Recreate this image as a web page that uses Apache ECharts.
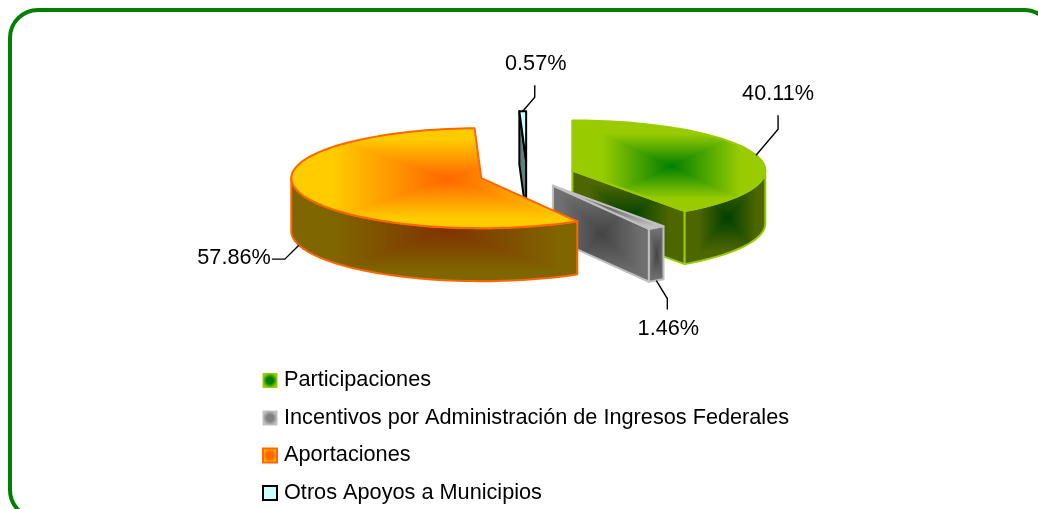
<!DOCTYPE html>
<html><head><meta charset="utf-8">
<style>html,body{margin:0;padding:0;background:#fff}#c{width:1038px;height:509px}</style>
<script src="https://cdn.jsdelivr.net/npm/echarts@6/dist/echarts.min.js"></script>
</head><body><div id="c"></div>
<script>
const categories = ['Participaciones','Incentivos por Administración de Ingresos Federales','Aportaciones','Otros Apoyos a Municipios'];
const shareValues = [40.11,1.46,57.86,0.57];

const FONT = '"Liberation Sans", Arial, sans-serif';
const FS = 21.7;
const G = {cx:527, cy:174.5, rx:190, ry:50, ex:47.6, ey:13.2, depth:53};
const looks = [
 {stroke:'#99CC00', inner:'#008000', outer:'#99CC00', wi:'#003F00', wo:'#4D6600', ramp:.72, lw:2, rx:193, gx:2, lead:[[22,-26],[22,-40]], lab:[0,-21]},
 {stroke:'#C0C0C0', inner:'#6A6A6A', outer:'#C0C0C0', wi:'#444444', wo:'#707070', ramp:.85, lw:2, rx:190, gx:0, lead:[[11,18],[11,29]], lab:[1,20]},
 {stroke:'#FF6600', inner:'#FF6600', outer:'#FFCC00', wi:'#803300', wo:'#806600', ramp:.8, lw:2, rx:190, gx:12, lead:[[-14,14],[-27,14]], lab:[-1,-1,'right']},
 {stroke:'#000000', inner:'#CCFFFF', outer:'#CCFFFF', wi:'#5F7F7F', wo:'#5F7F7F', ramp:1, lw:2, rx:190, gx:0, lead:[[12,-14],[12,-26]], lab:[1,-21]}
];
const total = shareValues.reduce((a,b)=>a+b,0);
const rad = d=>d*Math.PI/180;
let cursor = 90;
const slices = shareValues.map((v,i)=>{
  const s=cursor, e=cursor-v/total*360; cursor=e;
  const m=(s+e)/2;
  return {s,e,m,rx:looks[i].rx,ax:G.cx+G.ex*Math.cos(rad(m)),ay:G.cy-G.ey*Math.sin(rad(m))};
});
const rim=(sl,a,z)=>[sl.ax+sl.rx*Math.cos(rad(a)), sl.ay-G.ry*Math.sin(rad(a))+(z||0)];
const hex=c=>[1,3,5].map(i=>parseInt(c.substr(i,2),16));
function rectGrad(points, inner, outer, ramp, gx){
  if(inner===outer) return inner;
  let x0=1e9,x1=-1e9,y0=1e9,y1=-1e9;
  points.forEach(p=>{x0=Math.min(x0,p[0]);x1=Math.max(x1,p[0]);y0=Math.min(y0,p[1]);y1=Math.max(y1,p[1]);});
  const pad=3, L=Math.floor(x0)-pad, T=Math.floor(y0)-pad, W=Math.ceil(x1)+pad-L, H=Math.ceil(y1)+pad-T;
  const cv=document.createElement('canvas');cv.width=W;cv.height=H;
  const ctx=cv.getContext('2d'),img=ctx.createImageData(W,H);
  const a=hex(inner),b=hex(outer),mx=(x0+x1)/2+(gx||0),my=(y0+y1)/2,hw=Math.max(1,(x1-x0)/2),hh=Math.max(1,(y1-y0)/2);
  for(let j=0;j<H;j++)for(let i=0;i<W;i++){
    const t=Math.min(1,Math.max(Math.abs(L+i-mx)/hw,Math.abs(T+j-my)/hh)/ramp),k=(i+j*W)*4;
    for(let c=0;c<3;c++)img.data[k+c]=a[c]+(b[c]-a[c])*t;
    img.data[k+3]=255;
  }
  ctx.putImageData(img,0,0);
  return {image:cv,repeat:'no-repeat',x:L,y:T};
}
function arcPts(sl,from,to,z){
  const out=[],n=Math.max(1,Math.ceil(Math.abs(to-from)/2));
  for(let i=0;i<=n;i++)out.push(rim(sl,from+(to-from)*i/n,z));
  return out;
}
function face(points,lk,gx){
  return {type:'polygon',shape:{points},style:{fill:rectGrad(points,lk.wi,lk.wo,lk.ramp,gx),stroke:lk.stroke,lineWidth:lk.lw,lineJoin:'round'}};
}
function renderSlice(idx,value){
  const sl=slices[idx],lk=looks[idx],ch=[],A=[sl.ax,sl.ay],D=G.depth;
  const cut=a=>{const o=rim(sl,a),b=rim(sl,a,D);return face([A,o,b,[A[0],A[1]+D]],lk,0);};
  if(Math.cos(rad(sl.s))<-1e-6)ch.push(cut(sl.s));
  if(Math.cos(rad(sl.e))>1e-6)ch.push(cut(sl.e));
  // outer wall: the part of the rim facing the viewer
  let hi=sl.s,lo=sl.e;
  if(sl.s>0){hi=0;}
  if(sl.e<-180){lo=-180;}
  if(hi>lo&&sl.s>-180&&Math.sin(rad((hi+lo)/2))<0){
    const t=arcPts(sl,hi,lo,0),b=arcPts(sl,lo,hi,D);
    ch.push(face(t.concat(b),lk,lk.gx));
  }
  const top=[A].concat(arcPts(sl,sl.s,sl.e,0));
  ch.push({type:'polygon',shape:{points:top},style:{fill:rectGrad(top,lk.inner,lk.outer,lk.ramp,lk.gx),stroke:lk.stroke,lineWidth:lk.lw,lineJoin:'round'}});
  // leader + label
  const front=Math.sin(rad(sl.m))<0, st=rim(sl,sl.m,front?D:0);
  const p1=[st[0]+lk.lead[0][0],st[1]+lk.lead[0][1]],p2=[st[0]+lk.lead[1][0],st[1]+lk.lead[1][1]];
  ch.push({type:'polyline',shape:{points:[st,p1,p2]},style:{stroke:'#000',lineWidth:1.4,fill:null}});
  ch.push({type:'text',style:{text:value.toFixed(2)+'%',x:p2[0]+lk.lab[0],y:p2[1]+lk.lab[1],fontSize:FS,fontFamily:FONT,fill:'#000',align:lk.lab[2]||'center',verticalAlign:'middle'}});
  return {type:'group',children:ch};
}
const drawOrder=[3,0,1,2];
const series=drawOrder.map((idx,o)=>({
  type:'custom',name:categories[idx],coordinateSystem:'none',silent:true,animation:false,z:2+o,
  data:[[shareValues[idx]]],
  renderItem:(p,api)=>renderSlice(idx,api.value(0))
}));
const rg=(i,o)=>({type:'radial',x:.5,y:.5,r:.5,colorStops:[{offset:0,color:i},{offset:.45,color:i},{offset:1,color:o}]});
const legendStyles=[
 {color:rg('#008000','#99CC00'),borderColor:'#99CC00',borderWidth:1},
 {color:rg('#808080','#C0C0C0'),borderColor:'#C0C0C0',borderWidth:1},
 {color:rg('#FF6600','#FFCC00'),borderColor:'#FF6600',borderWidth:2},
 {color:'#CCFFFF',borderColor:'#000000',borderWidth:2}
];
const chart=echarts.init(document.getElementById('c'),null,{renderer:'canvas'});
chart.setOption({
  backgroundColor:'#fff',animation:false,
  graphic:[{type:'rect',shape:{x:10,y:10,width:1042,height:508,r:28},style:{fill:null,stroke:'#008000',lineWidth:4},z:1,silent:true}],
  legend:{orient:'vertical',left:262,top:369.5,padding:0,itemWidth:14,itemHeight:14,itemGap:15.5,selectedMode:false,
    textStyle:{fontFamily:FONT,fontSize:FS,color:'#000',padding:[0,0,0,2]},
    data:categories.map((n,i)=>({name:n,icon:'rect',itemStyle:legendStyles[i]}))},
  series
});
</script></body></html>
